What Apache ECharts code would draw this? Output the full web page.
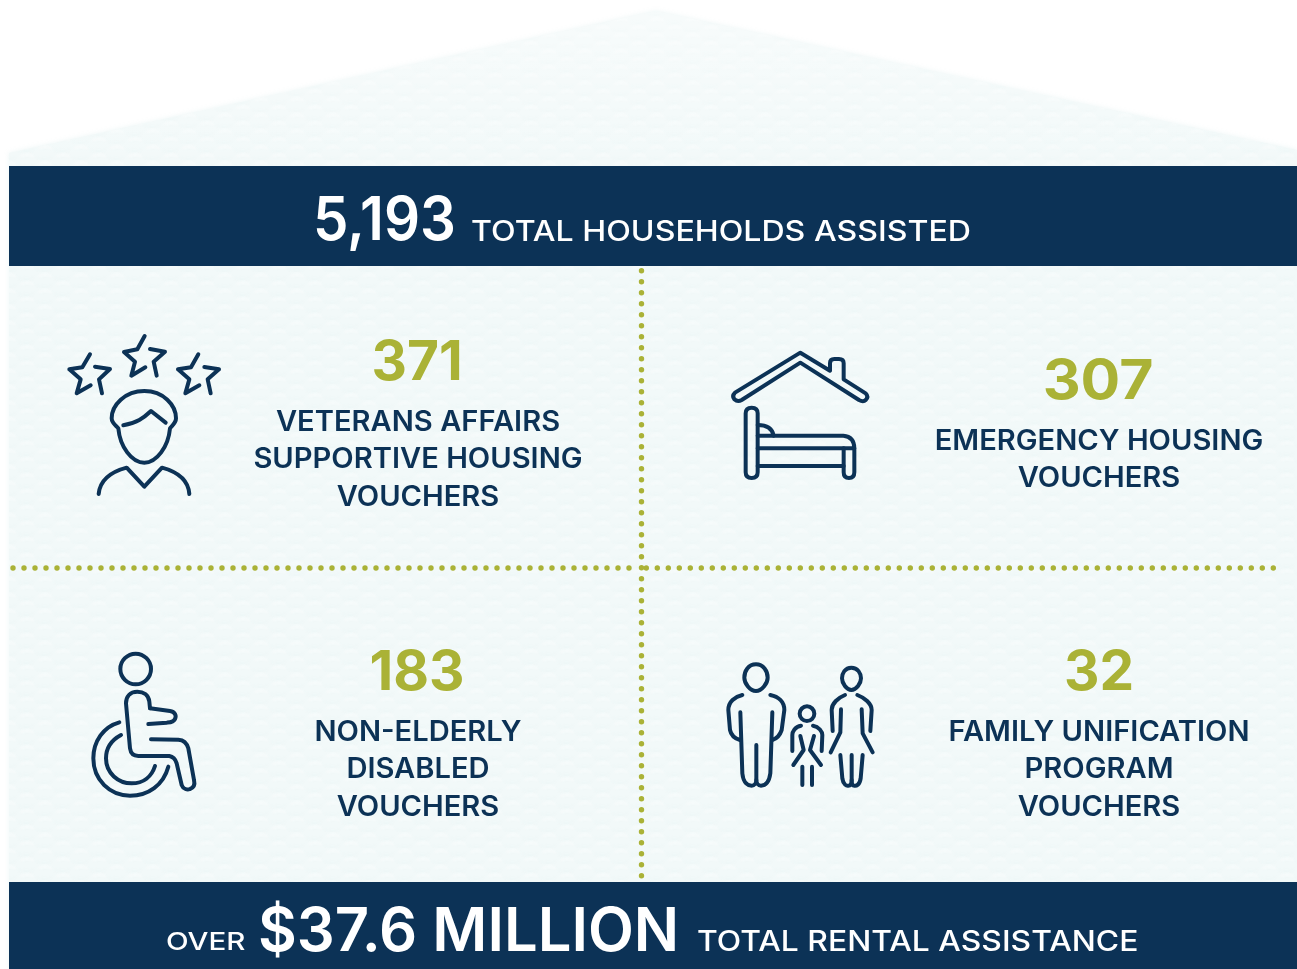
<!DOCTYPE html>
<html><head><meta charset="utf-8">
<style>html,body{margin:0;padding:0;background:#fff}#c{width:1297px;height:969px}</style>
<script src="https://cdn.jsdelivr.net/npm/echarts@6/dist/echarts.min.js"></script>
</head><body><div id="c"></div>
<script>
// ---- data ----
var totalValue = '5,193';
var totalLabel = 'TOTAL HOUSEHOLDS ASSISTED';
var rentalPrefix = 'OVER';
var rentalValue = '$37.6 MILLION';
var rentalLabel = 'TOTAL RENTAL ASSISTANCE';
var voucherValues = ['371', '307', '183', '32'];
var voucherLabels = [
  ['VETERANS AFFAIRS', 'SUPPORTIVE HOUSING', 'VOUCHERS'],
  ['EMERGENCY HOUSING', 'VOUCHERS'],
  ['NON-ELDERLY', 'DISABLED', 'VOUCHERS'],
  ['FAMILY UNIFICATION', 'PROGRAM', 'VOUCHERS']
];
// ---- style ----
var NAVY = '#0c3256', OLIVE = '#aab236', FONT = 'Inter, "Noto Sans", sans-serif';
var iconPaths = [
 ['M120 103L97 142L58 148L92 178L80 220L122 196M135 140L180 147L147 178L156 220',
  'M284 48L262 88L222 96L255 125L244 167L286 142M300 87L345 95L311 125L320 167',
  'M445 103L423 142L384 148L418 178L406 220L448 196M463 141L507 148L473 178L482 220',
  'M283 213C225 213 185 255 185 295C185 310 200 318 205 325C210 380 245 428 283 428C320 428 355 380 360 325C365 318 378 310 378 295C378 255 340 213 283 213Z',
  'M220 316C260 308 280 295 303 273L347 308',
  'M146 522C150 480 185 455 230 443L283 500L336 443C380 455 415 480 418 522'],
 ['M256 38L345 92L345 70Q345 57 358 57L372 57Q386 57 386 70L386 118L452 160Q462 170 452 180Q445 187 432 180L256 68L80 180Q68 187 58 178Q50 168 60 158Z',
  'M92 220Q92 203 110 203Q128 203 128 220L128 397Q128 414 110 414Q92 414 92 397Z',
  'M128 287L385 287Q418 290 418 325L128 325',
  'M386 325L386 397Q386 414 402 414Q418 414 418 397L418 325',
  'M128 378L386 378','M128 255Q170 255 176 287'],
 ['M213 72C213 97 192 118 167 118C142 118 121 97 121 72C121 47 142 26 167 26C192 26 213 47 213 72Z',
  'M118 232C70 245 40 290 40 340C40 405 90 452 150 452C205 452 250 420 265 365',
  'M123 270C95 285 78 310 78 340C78 385 115 415 155 415C190 415 215 395 225 363',
  'M210 190L208 170C206 150 190 140 172 140C150 140 138 155 138 175L150 310C152 325 160 333 175 333L268 333C280 335 287 345 290 355L305 420C310 433 322 435 330 432C342 428 345 418 342 405L325 310C320 292 310 285 295 284L213 283',
  'M210 190L270 198C285 200 290 212 285 222C280 232 270 232 260 233L205 237'],
 ['M123 28C100 28 88 48 88 68C88 85 105 108 123 108C140 108 158 85 158 68C158 48 145 28 123 28Z',
  'M82 120C60 125 40 140 40 165L45 225C48 240 58 250 75 255','M166 120C190 125 208 140 208 165L200 225C195 240 188 250 172 255',
  'M76 172L82 355C85 385 100 392 110 392C118 392 124 385 124 375L124 270','M172 172L166 355C162 385 148 392 138 392C130 392 124 385 124 375',
  'M409 38C390 38 381 55 381 70C381 85 395 105 409 105C424 105 438 85 438 70C438 55 428 38 409 38Z',
  'M390 120C370 128 350 145 350 165L353 228','M378 163L376 232L347 292','M427 120C448 128 470 145 470 165L466 228','M440 163L443 235L473 292',
  'M376 300L382 370C385 390 395 393 400 392C407 392 410 385 410 375L410 300','M443 300L437 370C434 390 424 393 418 392C412 392 410 385 410 375',
  'M298 176C298 188 288 198 276 198C264 198 254 188 254 176C254 164 264 154 276 154C288 154 298 164 298 176Z',
  'M258 212C240 215 232 230 232 240L232 288','M294 212C312 215 322 230 322 240L320 288',
  'M256 243L266 285L235 330','M297 243L285 285L318 330','M262 335L262 390','M291 335L291 390']
];
var iconOrigins = [[50,320],[715,340],[80,645],[715,655]];
var cellLayout = [
  {cx:417, numX:417, numY:383, numScale:1.0, lineY:[433,470,508]},
  {cx:1098, numX:1098, numY:402, numScale:1.07, lineY:[452,489]},
  {cx:417, numX:417, numY:693, numScale:1.0, lineY:[743,780,818]},
  {cx:1098, numX:1099, numY:693, numScale:1.0, lineY:[743,780,818]}
];
function makePattern(){
  var c=document.createElement('canvas');c.width=36;c.height=16;var g=c.getContext('2d');
  g.fillStyle='#f2f9f9';g.fillRect(0,0,36,16);
  g.lineWidth=2.5;g.lineCap='round';
  g.filter='blur(0.8px)';
  for(var r=0;r<2;r++){var y=4+r*8,o=r*18;
    for(var k=-1;k<2;k++){var x=o+k*36;
      g.strokeStyle='#f7fbfb';g.beginPath();g.moveTo(x+3,y);g.quadraticCurveTo(x+9,y-3,x+15,y);g.stroke();
      g.strokeStyle='#eef7f7';g.beginPath();g.moveTo(x+20,y+2);g.quadraticCurveTo(x+26,y+5,x+32,y+2);g.stroke();
    }
  }
  return c;
}
// y is the text baseline
function txt(s,x,y,size,weight,color,align,sx){
  return {type:'text',x:x,y:y-0.36*size,scaleX:sx||1,z:10,style:{text:s,font:weight+' '+size+'px '+FONT,fill:color,align:align||'center',verticalAlign:'middle'}};
}
var els=[];
var house=[[9,153],[656,11],[1297,150],[1297,969],[9,969]];
els.push({type:'polygon',shape:{points:house},z:1,style:{fill:{image:makePattern(),repeat:'repeat'},shadowBlur:5,shadowColor:'rgba(235,245,245,.9)'}});
els.push({type:'polygon',shape:{points:[[9,153],[656,11],[1297,150],[1297,166],[9,166]]},z:2,style:{fill:{type:'linear',x:0,y:0,x2:0,y2:1,colorStops:[{offset:0,color:'rgba(255,255,255,.4)'},{offset:1,color:'rgba(255,255,255,.05)'}]}}});
els.push({type:'rect',shape:{x:9,y:166,width:1288,height:100},z:3,style:{fill:NAVY}});
els.push({type:'rect',shape:{x:9,y:882,width:1288,height:87},z:3,style:{fill:NAVY}});
function dots(x1,y1,x2,y2){return {type:'line',z:4,shape:{x1:x1,y1:y1,x2:x2,y2:y2},style:{stroke:OLIVE,lineWidth:5.4,lineCap:'round',lineDash:[0.01,10.99]}};}
els.push(dots(13,568,637,568));els.push(dots(646.3,568,1275,568));els.push(dots(641.5,270.7,641.5,878));
els.push(txt(totalValue,313,244,60,'600','#fff','left',0.94));
els.push(txt(totalLabel,471,243,28,'500','#fff','left',1.147));
els.push(txt(rentalPrefix,166,951,24,'500','#fff','left',1.23));
els.push(txt(rentalValue,258,955,60,'600','#fff','left',0.995));
els.push(txt(rentalLabel,697,953,28,'500','#fff','left',1.137));
voucherValues.forEach(function(v,i){
  var L=cellLayout[i];
  els.push(txt(v,L.numX,L.numY,55,'700',OLIVE,'center',L.numScale));
  voucherLabels[i].forEach(function(s,j){els.push(txt(s,L.cx+1,L.lineY[j],28,'600',NAVY,'center',1.04));});
  els.push({type:'group',x:iconOrigins[i][0],y:iconOrigins[i][1],scaleX:1/3,scaleY:1/3,z:8,
    children:iconPaths[i].map(function(d,j){
      var name='icon'+i+'_'+j;
      echarts.graphic.registerShape(name,echarts.graphic.extendPath(d,{}));
      return {type:name,z:8,style:{fill:'none',stroke:NAVY,lineWidth:12,lineCap:'round',lineJoin:'round'}};
    })});
});
var chart=echarts.init(document.getElementById('c'),null,{renderer:'canvas',width:1297,height:969});
chart.setOption({animation:false,backgroundColor:'#ffffff',graphic:{elements:els}});
</script></body></html>
